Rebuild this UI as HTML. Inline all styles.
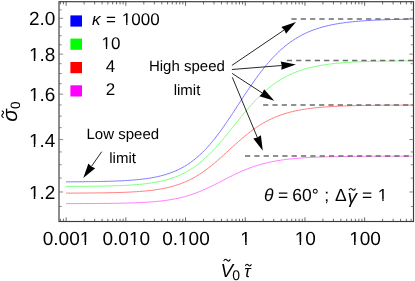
<!DOCTYPE html>
<html><head><meta charset="utf-8"><title>chart</title>
<style>html,body{margin:0;padding:0;background:#fff;}svg{display:block;will-change:transform;}</style></head>
<body>
<svg width="415" height="281" viewBox="0 0 415 281">
<rect width="415" height="281" fill="#fff"/>
<path d="M66.00,181.85 L67.50,181.84 L69.00,181.84 L70.50,181.83 L72.00,181.82 L73.50,181.81 L75.00,181.80 L76.50,181.79 L78.00,181.78 L79.50,181.77 L81.00,181.75 L82.50,181.74 L84.00,181.72 L85.50,181.71 L87.00,181.69 L88.50,181.67 L90.00,181.65 L91.50,181.63 L93.00,181.61 L94.50,181.59 L96.00,181.57 L97.50,181.54 L99.00,181.51 L100.50,181.48 L102.00,181.45 L103.50,181.42 L105.00,181.38 L106.50,181.34 L108.00,181.30 L109.50,181.26 L111.00,181.21 L112.50,181.16 L114.00,181.11 L115.50,181.05 L117.00,180.99 L118.50,180.93 L120.00,180.86 L121.50,180.79 L123.00,180.71 L124.50,180.63 L126.00,180.54 L127.50,180.45 L129.00,180.35 L130.50,180.24 L132.00,180.13 L133.50,180.01 L135.00,179.88 L136.50,179.74 L138.00,179.60 L139.50,179.44 L141.00,179.28 L142.50,179.11 L144.00,178.92 L145.50,178.72 L147.00,178.51 L148.50,178.29 L150.00,178.05 L151.50,177.80 L153.00,177.53 L154.50,177.25 L156.00,176.95 L157.50,176.63 L159.00,176.29 L160.50,175.93 L162.00,175.55 L163.50,175.15 L165.00,174.72 L166.50,174.27 L168.00,173.79 L169.50,173.28 L171.00,172.74 L172.50,172.18 L174.00,171.58 L175.50,170.95 L177.00,170.28 L178.50,169.58 L180.00,168.84 L181.50,168.07 L183.00,167.25 L184.50,166.39 L186.00,165.49 L187.50,164.54 L189.00,163.55 L190.50,162.51 L192.00,161.42 L193.50,160.28 L195.00,159.09 L196.50,157.85 L198.00,156.56 L199.50,155.22 L201.00,153.83 L202.50,152.38 L204.00,150.87 L205.50,149.32 L207.00,147.71 L208.50,146.05 L210.00,144.34 L211.50,142.57 L213.00,140.76 L214.50,138.90 L216.00,136.99 L217.50,135.03 L219.00,133.03 L220.50,131.00 L222.00,128.92 L223.50,126.80 L225.00,124.66 L226.50,122.48 L228.00,120.27 L229.50,118.05 L231.00,115.80 L232.50,113.53 L234.00,111.25 L235.50,108.96 L237.00,106.66 L238.50,104.36 L240.00,102.06 L241.50,99.76 L243.00,97.47 L244.50,95.19 L246.00,92.93 L247.50,90.68 L249.00,88.46 L250.50,86.25 L252.00,84.08 L253.50,81.93 L255.00,79.81 L256.50,77.72 L258.00,75.68 L259.50,73.66 L261.00,71.69 L262.50,69.76 L264.00,67.87 L265.50,66.03 L267.00,64.23 L268.50,62.47 L270.00,60.76 L271.50,59.10 L273.00,57.48 L274.50,55.91 L276.00,54.39 L277.50,52.91 L279.00,51.48 L280.50,50.10 L282.00,48.76 L283.50,47.47 L285.00,46.22 L286.50,45.02 L288.00,43.87 L289.50,42.75 L291.00,41.68 L292.50,40.65 L294.00,39.65 L295.50,38.70 L297.00,37.79 L298.50,36.91 L300.00,36.07 L301.50,35.26 L303.00,34.49 L304.50,33.75 L306.00,33.04 L307.50,32.37 L309.00,31.72 L310.50,31.10 L312.00,30.51 L313.50,29.94 L315.00,29.40 L316.50,28.89 L318.00,28.40 L319.50,27.93 L321.00,27.48 L322.50,27.05 L324.00,26.65 L325.50,26.26 L327.00,25.89 L328.50,25.54 L330.00,25.21 L331.50,24.89 L333.00,24.58 L334.50,24.30 L336.00,24.02 L337.50,23.76 L339.00,23.51 L340.50,23.27 L342.00,23.05 L343.50,22.84 L345.00,22.63 L346.50,22.44 L348.00,22.26 L349.50,22.08 L351.00,21.92 L352.50,21.76 L354.00,21.61 L355.50,21.47 L357.00,21.33 L358.50,21.20 L360.00,21.08 L361.50,20.97 L363.00,20.86 L364.50,20.75 L366.00,20.65 L367.50,20.56 L369.00,20.47 L370.50,20.38 L372.00,20.30 L373.50,20.23 L375.00,20.15 L376.50,20.09 L378.00,20.02 L379.50,19.96 L381.00,19.90 L382.50,19.84 L384.00,19.79 L385.50,19.74 L387.00,19.69 L388.50,19.65 L390.00,19.60 L391.50,19.56 L393.00,19.52 L394.50,19.49 L396.00,19.45 L397.50,19.42 L399.00,19.39 L400.50,19.36 L402.00,19.33 L403.50,19.30 L405.00,19.28 L406.50,19.25 L408.00,19.23 L409.50,19.21 L411.00,19.19 L412.50,19.17" fill="none" stroke="#7d7dff" stroke-width="1"/>
<path d="M66.00,186.44 L67.50,186.44 L69.00,186.43 L70.50,186.42 L72.00,186.42 L73.50,186.41 L75.00,186.40 L76.50,186.39 L78.00,186.38 L79.50,186.37 L81.00,186.36 L82.50,186.35 L84.00,186.34 L85.50,186.32 L87.00,186.31 L88.50,186.29 L90.00,186.28 L91.50,186.26 L93.00,186.24 L94.50,186.22 L96.00,186.20 L97.50,186.18 L99.00,186.16 L100.50,186.13 L102.00,186.10 L103.50,186.08 L105.00,186.04 L106.50,186.01 L108.00,185.98 L109.50,185.94 L111.00,185.90 L112.50,185.86 L114.00,185.81 L115.50,185.76 L117.00,185.71 L118.50,185.66 L120.00,185.60 L121.50,185.54 L123.00,185.47 L124.50,185.40 L126.00,185.32 L127.50,185.24 L129.00,185.15 L130.50,185.06 L132.00,184.96 L133.50,184.86 L135.00,184.75 L136.50,184.63 L138.00,184.50 L139.50,184.37 L141.00,184.23 L142.50,184.08 L144.00,183.91 L145.50,183.74 L147.00,183.56 L148.50,183.36 L150.00,183.16 L151.50,182.94 L153.00,182.70 L154.50,182.45 L156.00,182.19 L157.50,181.91 L159.00,181.61 L160.50,181.30 L162.00,180.96 L163.50,180.61 L165.00,180.23 L166.50,179.83 L168.00,179.41 L169.50,178.96 L171.00,178.49 L172.50,177.99 L174.00,177.47 L175.50,176.91 L177.00,176.32 L178.50,175.70 L180.00,175.05 L181.50,174.37 L183.00,173.65 L184.50,172.89 L186.00,172.09 L187.50,171.26 L189.00,170.38 L190.50,169.47 L192.00,168.51 L193.50,167.51 L195.00,166.47 L196.50,165.38 L198.00,164.25 L199.50,163.07 L201.00,161.85 L202.50,160.58 L204.00,159.27 L205.50,157.92 L207.00,156.52 L208.50,155.08 L210.00,153.59 L211.50,152.07 L213.00,150.50 L214.50,148.90 L216.00,147.26 L217.50,145.59 L219.00,143.88 L220.50,142.15 L222.00,140.38 L223.50,138.60 L225.00,136.79 L226.50,134.97 L228.00,133.12 L229.50,131.27 L231.00,129.41 L232.50,127.54 L234.00,125.67 L235.50,123.80 L237.00,121.93 L238.50,120.07 L240.00,118.22 L241.50,116.39 L243.00,114.57 L244.50,112.77 L246.00,110.99 L247.50,109.24 L249.00,107.51 L250.50,105.81 L252.00,104.14 L253.50,102.51 L255.00,100.91 L256.50,99.34 L258.00,97.81 L259.50,96.32 L261.00,94.87 L262.50,93.46 L264.00,92.08 L265.50,90.75 L267.00,89.46 L268.50,88.21 L270.00,87.00 L271.50,85.83 L273.00,84.70 L274.50,83.62 L276.00,82.57 L277.50,81.56 L279.00,80.59 L280.50,79.66 L282.00,78.76 L283.50,77.90 L285.00,77.07 L286.50,76.28 L288.00,75.53 L289.50,74.80 L291.00,74.11 L292.50,73.44 L294.00,72.81 L295.50,72.20 L297.00,71.63 L298.50,71.08 L300.00,70.55 L301.50,70.05 L303.00,69.57 L304.50,69.11 L306.00,68.68 L307.50,68.27 L309.00,67.88 L310.50,67.50 L312.00,67.15 L313.50,66.81 L315.00,66.49 L316.50,66.18 L318.00,65.89 L319.50,65.62 L321.00,65.35 L322.50,65.11 L324.00,64.87 L325.50,64.65 L327.00,64.43 L328.50,64.23 L330.00,64.04 L331.50,63.86 L333.00,63.69 L334.50,63.52 L336.00,63.37 L337.50,63.22 L339.00,63.08 L340.50,62.95 L342.00,62.83 L343.50,62.71 L345.00,62.60 L346.50,62.49 L348.00,62.39 L349.50,62.29 L351.00,62.20 L352.50,62.12 L354.00,62.04 L355.50,61.96 L357.00,61.89 L358.50,61.82 L360.00,61.75 L361.50,61.69 L363.00,61.63 L364.50,61.58 L366.00,61.52 L367.50,61.47 L369.00,61.43 L370.50,61.38 L372.00,61.34 L373.50,61.30 L375.00,61.26 L376.50,61.23 L378.00,61.19 L379.50,61.16 L381.00,61.13 L382.50,61.10 L384.00,61.07 L385.50,61.05 L387.00,61.02 L388.50,61.00 L390.00,60.98 L391.50,60.96 L393.00,60.94 L394.50,60.92 L396.00,60.90 L397.50,60.88 L399.00,60.87 L400.50,60.85 L402.00,60.84 L403.50,60.83 L405.00,60.81 L406.50,60.80 L408.00,60.79 L409.50,60.78 L411.00,60.77 L412.50,60.76" fill="none" stroke="#7dff7d" stroke-width="1"/>
<path d="M66.00,193.12 L67.50,193.12 L69.00,193.11 L70.50,193.11 L72.00,193.10 L73.50,193.10 L75.00,193.09 L76.50,193.08 L78.00,193.08 L79.50,193.07 L81.00,193.06 L82.50,193.05 L84.00,193.04 L85.50,193.03 L87.00,193.02 L88.50,193.01 L90.00,192.99 L91.50,192.98 L93.00,192.97 L94.50,192.95 L96.00,192.94 L97.50,192.92 L99.00,192.90 L100.50,192.88 L102.00,192.86 L103.50,192.84 L105.00,192.81 L106.50,192.79 L108.00,192.76 L109.50,192.73 L111.00,192.70 L112.50,192.66 L114.00,192.63 L115.50,192.59 L117.00,192.55 L118.50,192.51 L120.00,192.46 L121.50,192.41 L123.00,192.36 L124.50,192.30 L126.00,192.24 L127.50,192.18 L129.00,192.11 L130.50,192.03 L132.00,191.96 L133.50,191.87 L135.00,191.78 L136.50,191.69 L138.00,191.59 L139.50,191.48 L141.00,191.37 L142.50,191.24 L144.00,191.12 L145.50,190.98 L147.00,190.83 L148.50,190.67 L150.00,190.51 L151.50,190.33 L153.00,190.14 L154.50,189.94 L156.00,189.73 L157.50,189.50 L159.00,189.26 L160.50,189.00 L162.00,188.73 L163.50,188.45 L165.00,188.14 L166.50,187.82 L168.00,187.48 L169.50,187.11 L171.00,186.73 L172.50,186.33 L174.00,185.90 L175.50,185.45 L177.00,184.97 L178.50,184.47 L180.00,183.94 L181.50,183.39 L183.00,182.80 L184.50,182.19 L186.00,181.54 L187.50,180.87 L189.00,180.16 L190.50,179.42 L192.00,178.65 L193.50,177.85 L195.00,177.01 L196.50,176.13 L198.00,175.22 L199.50,174.28 L201.00,173.31 L202.50,172.30 L204.00,171.25 L205.50,170.18 L207.00,169.07 L208.50,167.93 L210.00,166.76 L211.50,165.57 L213.00,164.34 L214.50,163.09 L216.00,161.82 L217.50,160.53 L219.00,159.21 L220.50,157.88 L222.00,156.54 L223.50,155.18 L225.00,153.82 L226.50,152.45 L228.00,151.07 L229.50,149.69 L231.00,148.32 L232.50,146.94 L234.00,145.58 L235.50,144.22 L237.00,142.87 L238.50,141.54 L240.00,140.23 L241.50,138.93 L243.00,137.65 L244.50,136.40 L246.00,135.17 L247.50,133.97 L249.00,132.79 L250.50,131.64 L252.00,130.52 L253.50,129.43 L255.00,128.37 L256.50,127.34 L258.00,126.34 L259.50,125.38 L261.00,124.44 L262.50,123.54 L264.00,122.67 L265.50,121.84 L267.00,121.03 L268.50,120.26 L270.00,119.52 L271.50,118.80 L273.00,118.12 L274.50,117.46 L276.00,116.84 L277.50,116.24 L279.00,115.67 L280.50,115.12 L282.00,114.60 L283.50,114.10 L285.00,113.63 L286.50,113.18 L288.00,112.75 L289.50,112.34 L291.00,111.95 L292.50,111.58 L294.00,111.23 L295.50,110.89 L297.00,110.58 L298.50,110.28 L300.00,109.99 L301.50,109.72 L303.00,109.47 L304.50,109.22 L306.00,108.99 L307.50,108.78 L309.00,108.57 L310.50,108.37 L312.00,108.19 L313.50,108.01 L315.00,107.85 L316.50,107.69 L318.00,107.54 L319.50,107.40 L321.00,107.27 L322.50,107.15 L324.00,107.03 L325.50,106.92 L327.00,106.81 L328.50,106.71 L330.00,106.62 L331.50,106.53 L333.00,106.44 L334.50,106.36 L336.00,106.29 L337.50,106.22 L339.00,106.15 L340.50,106.09 L342.00,106.03 L343.50,105.97 L345.00,105.92 L346.50,105.87 L348.00,105.82 L349.50,105.78 L351.00,105.73 L352.50,105.69 L354.00,105.66 L355.50,105.62 L357.00,105.59 L358.50,105.56 L360.00,105.53 L361.50,105.50 L363.00,105.47 L364.50,105.45 L366.00,105.42 L367.50,105.40 L369.00,105.38 L370.50,105.36 L372.00,105.34 L373.50,105.32 L375.00,105.31 L376.50,105.29 L378.00,105.28 L379.50,105.26 L381.00,105.25 L382.50,105.24 L384.00,105.22 L385.50,105.21 L387.00,105.20 L388.50,105.19 L390.00,105.18 L391.50,105.17 L393.00,105.17 L394.50,105.16 L396.00,105.15 L397.50,105.14 L399.00,105.14 L400.50,105.13 L402.00,105.13 L403.50,105.12 L405.00,105.11 L406.50,105.11 L408.00,105.11 L409.50,105.10 L411.00,105.10 L412.50,105.09" fill="none" stroke="#ff7d7d" stroke-width="1"/>
<path d="M66.00,203.59 L67.50,203.59 L69.00,203.59 L70.50,203.58 L72.00,203.58 L73.50,203.58 L75.00,203.57 L76.50,203.57 L78.00,203.57 L79.50,203.56 L81.00,203.56 L82.50,203.55 L84.00,203.55 L85.50,203.54 L87.00,203.54 L88.50,203.53 L90.00,203.52 L91.50,203.51 L93.00,203.51 L94.50,203.50 L96.00,203.49 L97.50,203.48 L99.00,203.47 L100.50,203.46 L102.00,203.45 L103.50,203.43 L105.00,203.42 L106.50,203.40 L108.00,203.39 L109.50,203.37 L111.00,203.35 L112.50,203.33 L114.00,203.31 L115.50,203.29 L117.00,203.26 L118.50,203.24 L120.00,203.21 L121.50,203.18 L123.00,203.15 L124.50,203.12 L126.00,203.08 L127.50,203.04 L129.00,203.00 L130.50,202.95 L132.00,202.91 L133.50,202.86 L135.00,202.80 L136.50,202.74 L138.00,202.68 L139.50,202.61 L141.00,202.54 L142.50,202.47 L144.00,202.39 L145.50,202.30 L147.00,202.21 L148.50,202.11 L150.00,202.01 L151.50,201.89 L153.00,201.77 L154.50,201.65 L156.00,201.51 L157.50,201.37 L159.00,201.21 L160.50,201.05 L162.00,200.88 L163.50,200.69 L165.00,200.50 L166.50,200.29 L168.00,200.07 L169.50,199.84 L171.00,199.59 L172.50,199.33 L174.00,199.05 L175.50,198.76 L177.00,198.45 L178.50,198.13 L180.00,197.78 L181.50,197.42 L183.00,197.05 L184.50,196.65 L186.00,196.23 L187.50,195.80 L189.00,195.34 L190.50,194.87 L192.00,194.37 L193.50,193.85 L195.00,193.32 L196.50,192.76 L198.00,192.18 L199.50,191.59 L201.00,190.97 L202.50,190.34 L204.00,189.69 L205.50,189.02 L207.00,188.33 L208.50,187.63 L210.00,186.92 L211.50,186.19 L213.00,185.45 L214.50,184.70 L216.00,183.94 L217.50,183.18 L219.00,182.41 L220.50,181.63 L222.00,180.86 L223.50,180.08 L225.00,179.31 L226.50,178.54 L228.00,177.77 L229.50,177.01 L231.00,176.25 L232.50,175.51 L234.00,174.78 L235.50,174.05 L237.00,173.34 L238.50,172.65 L240.00,171.97 L241.50,171.30 L243.00,170.66 L244.50,170.02 L246.00,169.41 L247.50,168.82 L249.00,168.24 L250.50,167.68 L252.00,167.14 L253.50,166.62 L255.00,166.12 L256.50,165.64 L258.00,165.18 L259.50,164.73 L261.00,164.30 L262.50,163.89 L264.00,163.50 L265.50,163.13 L267.00,162.77 L268.50,162.42 L270.00,162.10 L271.50,161.79 L273.00,161.49 L274.50,161.21 L276.00,160.94 L277.50,160.68 L279.00,160.44 L280.50,160.21 L282.00,159.99 L283.50,159.78 L285.00,159.58 L286.50,159.39 L288.00,159.21 L289.50,159.05 L291.00,158.89 L292.50,158.73 L294.00,158.59 L295.50,158.46 L297.00,158.33 L298.50,158.21 L300.00,158.09 L301.50,157.98 L303.00,157.88 L304.50,157.78 L306.00,157.69 L307.50,157.61 L309.00,157.52 L310.50,157.45 L312.00,157.37 L313.50,157.30 L315.00,157.24 L316.50,157.18 L318.00,157.12 L319.50,157.07 L321.00,157.01 L322.50,156.97 L324.00,156.92 L325.50,156.88 L327.00,156.83 L328.50,156.80 L330.00,156.76 L331.50,156.73 L333.00,156.69 L334.50,156.66 L336.00,156.63 L337.50,156.61 L339.00,156.58 L340.50,156.56 L342.00,156.53 L343.50,156.51 L345.00,156.49 L346.50,156.47 L348.00,156.45 L349.50,156.44 L351.00,156.42 L352.50,156.41 L354.00,156.39 L355.50,156.38 L357.00,156.37 L358.50,156.35 L360.00,156.34 L361.50,156.33 L363.00,156.32 L364.50,156.31 L366.00,156.30 L367.50,156.30 L369.00,156.29 L370.50,156.28 L372.00,156.27 L373.50,156.27 L375.00,156.26 L376.50,156.25 L378.00,156.25 L379.50,156.24 L381.00,156.24 L382.50,156.23 L384.00,156.23 L385.50,156.23 L387.00,156.22 L388.50,156.22 L390.00,156.21 L391.50,156.21 L393.00,156.21 L394.50,156.21 L396.00,156.20 L397.50,156.20 L399.00,156.20 L400.50,156.20 L402.00,156.19 L403.50,156.19 L405.00,156.19 L406.50,156.19 L408.00,156.19 L409.50,156.18 L411.00,156.18 L412.50,156.18" fill="none" stroke="#ff7dff" stroke-width="1"/>
<line x1="291.4" y1="18.9" x2="413.4" y2="18.9" stroke="#6b6b6b" stroke-width="1.5" stroke-dasharray="5.2 4.13"/>
<line x1="286.8" y1="60.5" x2="413.4" y2="60.5" stroke="#6b6b6b" stroke-width="1.5" stroke-dasharray="5.2 4.13"/>
<line x1="263.1" y1="105.0" x2="413.4" y2="105.0" stroke="#6b6b6b" stroke-width="1.5" stroke-dasharray="5.2 4.13"/>
<line x1="245.0" y1="156.0" x2="413.4" y2="156.0" stroke="#6b6b6b" stroke-width="1.5" stroke-dasharray="5.2 4.13"/>
<rect x="59.0" y="1.7" width="354.5" height="219.8" fill="none" stroke="#3a3a3a" stroke-width="1.15"/>
<path d="M60.36,221.45 v-2.70 M60.36,1.70 v2.70 M63.42,221.45 v-2.70 M63.42,1.70 v2.70 M66.15,221.45 v-4.10 M66.15,1.70 v4.10 M84.12,221.45 v-2.70 M84.12,1.70 v2.70 M94.63,221.45 v-2.70 M94.63,1.70 v2.70 M102.09,221.45 v-2.70 M102.09,1.70 v2.70 M107.88,221.45 v-2.70 M107.88,1.70 v2.70 M112.61,221.45 v-2.70 M112.61,1.70 v2.70 M116.60,221.45 v-2.70 M116.60,1.70 v2.70 M120.06,221.45 v-2.70 M120.06,1.70 v2.70 M123.12,221.45 v-2.70 M123.12,1.70 v2.70 M125.85,221.45 v-4.10 M125.85,1.70 v4.10 M143.82,221.45 v-2.70 M143.82,1.70 v2.70 M154.33,221.45 v-2.70 M154.33,1.70 v2.70 M161.79,221.45 v-2.70 M161.79,1.70 v2.70 M167.58,221.45 v-2.70 M167.58,1.70 v2.70 M172.31,221.45 v-2.70 M172.31,1.70 v2.70 M176.30,221.45 v-2.70 M176.30,1.70 v2.70 M179.76,221.45 v-2.70 M179.76,1.70 v2.70 M182.82,221.45 v-2.70 M182.82,1.70 v2.70 M185.55,221.45 v-4.10 M185.55,1.70 v4.10 M203.52,221.45 v-2.70 M203.52,1.70 v2.70 M214.03,221.45 v-2.70 M214.03,1.70 v2.70 M221.49,221.45 v-2.70 M221.49,1.70 v2.70 M227.28,221.45 v-2.70 M227.28,1.70 v2.70 M232.01,221.45 v-2.70 M232.01,1.70 v2.70 M236.00,221.45 v-2.70 M236.00,1.70 v2.70 M239.46,221.45 v-2.70 M239.46,1.70 v2.70 M242.52,221.45 v-2.70 M242.52,1.70 v2.70 M245.25,221.45 v-4.10 M245.25,1.70 v4.10 M263.22,221.45 v-2.70 M263.22,1.70 v2.70 M273.73,221.45 v-2.70 M273.73,1.70 v2.70 M281.19,221.45 v-2.70 M281.19,1.70 v2.70 M286.98,221.45 v-2.70 M286.98,1.70 v2.70 M291.71,221.45 v-2.70 M291.71,1.70 v2.70 M295.70,221.45 v-2.70 M295.70,1.70 v2.70 M299.16,221.45 v-2.70 M299.16,1.70 v2.70 M302.22,221.45 v-2.70 M302.22,1.70 v2.70 M304.95,221.45 v-4.10 M304.95,1.70 v4.10 M322.92,221.45 v-2.70 M322.92,1.70 v2.70 M333.43,221.45 v-2.70 M333.43,1.70 v2.70 M340.89,221.45 v-2.70 M340.89,1.70 v2.70 M346.68,221.45 v-2.70 M346.68,1.70 v2.70 M351.41,221.45 v-2.70 M351.41,1.70 v2.70 M355.40,221.45 v-2.70 M355.40,1.70 v2.70 M358.86,221.45 v-2.70 M358.86,1.70 v2.70 M361.92,221.45 v-2.70 M361.92,1.70 v2.70 M364.65,221.45 v-4.10 M364.65,1.70 v4.10 M382.62,221.45 v-2.70 M382.62,1.70 v2.70 M393.13,221.45 v-2.70 M393.13,1.70 v2.70 M400.59,221.45 v-2.70 M400.59,1.70 v2.70 M406.38,221.45 v-2.70 M406.38,1.70 v2.70 M411.11,221.45 v-2.70 M411.11,1.70 v2.70" stroke="#444" stroke-width="0.8" fill="none"/>
<path d="M58.95,206.45 h2.70 M413.45,206.45 h-2.70 M58.95,191.98 h4.10 M413.45,191.98 h-4.10 M58.95,178.10 h2.70 M413.45,178.10 h-2.70 M58.95,164.77 h2.70 M413.45,164.77 h-2.70 M58.95,151.93 h2.70 M413.45,151.93 h-2.70 M58.95,139.57 h4.10 M413.45,139.57 h-4.10 M58.95,127.64 h2.70 M413.45,127.64 h-2.70 M58.95,116.11 h2.70 M413.45,116.11 h-2.70 M58.95,104.96 h2.70 M413.45,104.96 h-2.70 M58.95,94.17 h4.10 M413.45,94.17 h-4.10 M58.95,83.71 h2.70 M413.45,83.71 h-2.70 M58.95,73.56 h2.70 M413.45,73.56 h-2.70 M58.95,63.70 h2.70 M413.45,63.70 h-2.70 M58.95,54.12 h4.10 M413.45,54.12 h-4.10 M58.95,44.81 h2.70 M413.45,44.81 h-2.70 M58.95,35.74 h2.70 M413.45,35.74 h-2.70 M58.95,26.91 h2.70 M413.45,26.91 h-2.70 M58.95,18.30 h4.10 M413.45,18.30 h-4.10 M58.95,9.90 h2.70 M413.45,9.90 h-2.70" stroke="#6a6a6a" stroke-width="0.8" fill="none"/>
<line x1="231.9" y1="65.4" x2="284.3" y2="29.9" stroke="#000" stroke-width="0.85"/><path d="M296.0,22.0 L286.0,33.8 L284.3,29.9 L281.3,26.9 Z" fill="#000"/>
<line x1="231.9" y1="69.5" x2="281.7" y2="65.5" stroke="#000" stroke-width="0.85"/><path d="M295.9,64.4 L281.3,69.7 L281.7,65.5 L280.7,61.4 Z" fill="#000"/>
<line x1="232.1" y1="73.4" x2="262.4" y2="93.1" stroke="#000" stroke-width="0.85"/><path d="M274.3,100.8 L259.5,96.2 L262.4,93.1 L264.1,89.2 Z" fill="#000"/>
<line x1="232.3" y1="77.3" x2="257.4" y2="137.6" stroke="#000" stroke-width="0.85"/><path d="M262.8,150.7 L253.3,138.5 L257.4,137.6 L260.9,135.3 Z" fill="#000"/>
<line x1="101.7" y1="151.7" x2="91.4" y2="166.5" stroke="#000" stroke-width="0.85"/><path d="M83.3,178.1 L88.4,163.5 L91.4,166.5 L95.2,168.2 Z" fill="#000"/>
<rect x="70.4" y="15.4" width="11.6" height="11.2" fill="#0000ff"/>
<rect x="70.4" y="38.6" width="11.6" height="11.2" fill="#00ff00"/>
<rect x="70.4" y="62.0" width="11.6" height="11.2" fill="#ff0000"/>
<rect x="70.4" y="85.3" width="11.6" height="11.2" fill="#ff00ff"/>
<g font-family="'Liberation Sans', sans-serif" fill="#000" text-rendering="geometricPrecision">
<text x="28.89" y="25.40" font-size="19">2.0</text>
<text x="28.89" y="61.22" font-size="19">1.8</text>
<text x="28.89" y="101.27" font-size="19">1.6</text>
<text x="28.89" y="146.67" font-size="19">1.4</text>
<text x="28.89" y="199.08" font-size="19">1.2</text>
<text x="42.78" y="244.50" font-size="19">0.001</text>
<text x="102.48" y="244.50" font-size="19">0.010</text>
<text x="162.18" y="244.50" font-size="19">0.100</text>
<text x="240.37" y="244.50" font-size="19">1</text>
<text x="294.78" y="244.50" font-size="19">10</text>
<text x="349.20" y="244.50" font-size="19">100</text>
<text x="91.90" y="24.80" font-size="17"><tspan font-style="italic">κ</tspan></text>
<text x="106.04" y="24.80" font-size="17">=</text>
<text x="121.78" y="24.80" font-size="17">1000</text>
<text x="101.49" y="48.80" font-size="17">10</text>
<text x="105.87" y="72.00" font-size="17">4</text>
<text x="105.87" y="94.90" font-size="17">2</text>
<text x="148.96" y="71.00" font-size="15">High speed</text>
<text x="173.67" y="94.70" font-size="15">limit</text>
<text x="86.52" y="139.40" font-size="15">Low speed</text>
<text x="109.27" y="163.10" font-size="15">limit</text>
<text x="264.00" y="201.20" font-size="17.5"><tspan font-style="italic">θ</tspan></text>
<text x="278.09" y="201.20" font-size="17.5">=</text>
<text x="292.24" y="201.20" font-size="17.5">60°</text>
<text x="324.27" y="201.20" font-size="17.5">;</text>
<text x="334.90" y="201.20" font-size="17.5">Δ</text>
<text x="347.50" y="203.30" font-size="19"><tspan font-style="italic">γ</tspan></text>
<text x="361.89" y="201.20" font-size="17.5">=</text>
<text x="377.80" y="201.20" font-size="17.5">1</text>
<text x="220.40" y="276.80" font-size="18.8"><tspan font-style="italic">V</tspan></text>
<text x="232.35" y="280.20" font-size="14">0</text>
<text x="244.20" y="276.80" font-size="17"><tspan font-style="italic">τ</tspan></text>
<g transform="translate(16.9,121.7) rotate(-90)">
<text x="0.00" y="0.00" font-size="21"><tspan font-style="italic">σ</tspan></text>
<text x="12.80" y="2.80" font-size="13.5">0</text>
</g>
</g>
<rect x="29.14" y="58.80" width="4.63" height="3.62" fill="#fff"/>
<rect x="35.24" y="58.80" width="4.48" height="3.62" fill="#fff"/>
<rect x="29.14" y="98.85" width="4.63" height="3.62" fill="#fff"/>
<rect x="35.24" y="98.85" width="4.48" height="3.62" fill="#fff"/>
<rect x="29.14" y="144.25" width="4.63" height="3.62" fill="#fff"/>
<rect x="35.24" y="144.25" width="4.48" height="3.62" fill="#fff"/>
<rect x="29.14" y="196.66" width="4.63" height="3.62" fill="#fff"/>
<rect x="35.24" y="196.66" width="4.48" height="3.62" fill="#fff"/>
<rect x="80.00" y="242.08" width="4.63" height="3.62" fill="#fff"/>
<rect x="86.11" y="242.08" width="4.48" height="3.62" fill="#fff"/>
<rect x="129.14" y="242.08" width="4.63" height="3.62" fill="#fff"/>
<rect x="135.25" y="242.08" width="4.48" height="3.62" fill="#fff"/>
<rect x="178.27" y="242.08" width="4.63" height="3.62" fill="#fff"/>
<rect x="184.38" y="242.08" width="4.48" height="3.62" fill="#fff"/>
<rect x="240.61" y="242.08" width="4.63" height="3.62" fill="#fff"/>
<rect x="246.72" y="242.08" width="4.48" height="3.62" fill="#fff"/>
<rect x="295.03" y="242.08" width="4.63" height="3.62" fill="#fff"/>
<rect x="301.14" y="242.08" width="4.48" height="3.62" fill="#fff"/>
<rect x="349.45" y="242.08" width="4.63" height="3.62" fill="#fff"/>
<rect x="355.56" y="242.08" width="4.48" height="3.62" fill="#fff"/>
<rect x="121.88" y="22.53" width="4.28" height="3.47" fill="#fff"/>
<rect x="127.46" y="22.53" width="4.15" height="3.47" fill="#fff"/>
<rect x="101.59" y="46.53" width="4.28" height="3.47" fill="#fff"/>
<rect x="107.17" y="46.53" width="4.15" height="3.47" fill="#fff"/>
<rect x="377.93" y="198.89" width="4.37" height="3.51" fill="#fff"/>
<rect x="383.65" y="198.89" width="4.23" height="3.51" fill="#fff"/>
<path transform="translate(227.0,260.2) rotate(0)" d="M-3.30,0.90 C-2.20,-1.80 -0.82,-0.90 0,0 S2.20,1.80 3.30,-0.90" fill="none" stroke="#000" stroke-width="1.1"/>
<path transform="translate(248.4,265.1) rotate(0)" d="M-3.00,0.90 C-2.00,-1.80 -0.75,-0.90 0,0 S2.00,1.80 3.00,-0.90" fill="none" stroke="#000" stroke-width="1.1"/>
<path transform="translate(352.2,189.4) rotate(0)" d="M-3.20,0.90 C-2.13,-1.80 -0.80,-0.90 0,0 S2.13,1.80 3.20,-0.90" fill="none" stroke="#000" stroke-width="1.1"/>
<path transform="translate(2.7,114.2) rotate(-90)" d="M-3.50,0.90 C-2.33,-1.80 -0.88,-0.90 0,0 S2.33,1.80 3.50,-0.90" fill="none" stroke="#000" stroke-width="1.1"/>
</svg>
</body></html>
